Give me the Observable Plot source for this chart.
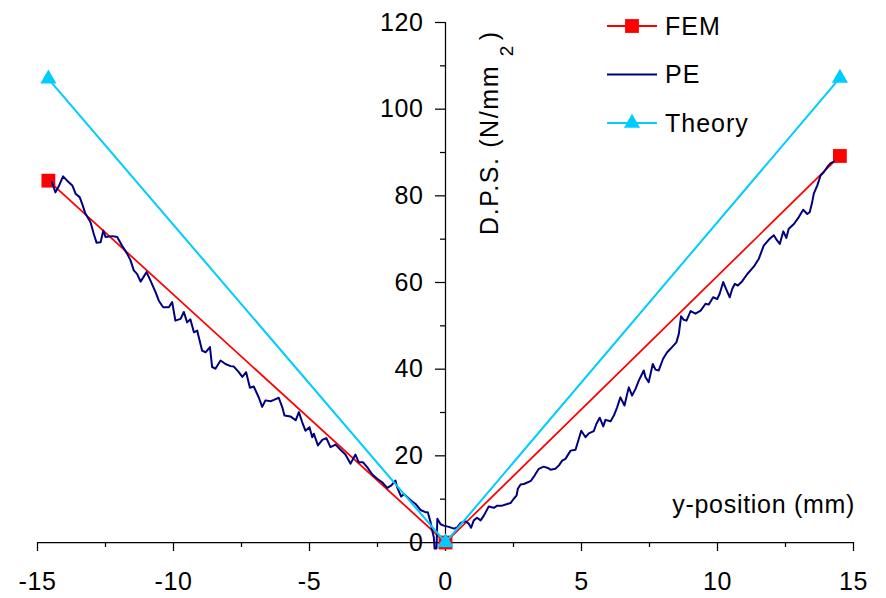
<!DOCTYPE html>
<html>
<head>
<meta charset="utf-8">
<script src="https://cdn.jsdelivr.net/npm/d3@7"></script>
<script src="https://cdn.jsdelivr.net/npm/@observablehq/plot@0.6"></script>
<style>
  html, body { margin: 0; padding: 0; background: white; }
</style>
</head>
<body>
<div id="chart"></div>
<script>
// ---- Data ----
const xMajor = [-15, -10, -5, 0, 5, 10, 15];
const xMinor = [-12.5, -7.5, -2.5, 2.5, 7.5, 12.5];
const yMajor = [0, 20, 40, 60, 80, 100, 120];
const yMinor = [10, 30, 50, 70, 90, 110];

const seriesNames = ["FEM", "PE", "Theory"];
const seriesColors = ["#FF0000", "#000080", "#00CCFF"];

const femX = [-14.6, 0, 14.5];
const femY = [83.5, 0, 89.2];

const theoryX = [-14.6, 0, 14.5];
const theoryY = [107, 0, 107.2];

const peX = [-14.47, -14.34, -14.22, -14.06, -13.91, -13.72, -13.6, -13.45, -13.36, -13.24,
  -13.05, -12.93, -12.83, -12.68, -12.58, -12.5, -12.25, -12.07, -11.89, -11.7,
  -11.58, -11.46, -11.34, -11.21, -10.99, -10.85, -10.66, -10.54, -10.38, -10.17,
  -10.05, -9.93, -9.74, -9.62, -9.5, -9.38, -9.25, -9.13, -8.95, -8.82,
  -8.66, -8.58, -8.46, -8.27, -8.09, -7.9, -7.78, -7.6, -7.47, -7.33,
  -7.19, -7.05, -6.86, -6.74, -6.62, -6.43, -6.31, -6.13, -6.0, -5.92,
  -5.7, -5.51, -5.39, -5.27, -5.15, -5.0, -4.9, -4.84, -4.69, -4.53,
  -4.38, -4.23, -4.04, -3.86, -3.68, -3.49, -3.31, -3.19, -3.03, -2.88,
  -2.69, -2.51, -2.33, -2.14, -1.99, -1.84, -1.78, -1.63, -1.53, -1.29,
  -1.1, -0.92, -0.74, -0.65, -0.55, -0.49, -0.43, -0.4, -0.33, -0.3,
  -0.18, -0.06, 0.12, 0.31, 0.43, 0.55, 0.74, 0.86, 0.94, 1.04,
  1.16, 1.29, 1.41, 1.59, 1.78, 1.9, 2.08, 2.27, 2.39, 2.51,
  2.61, 2.66, 2.76, 2.88, 3.03, 3.15, 3.28, 3.43, 3.61, 3.76,
  3.86, 4.04, 4.17, 4.29, 4.41, 4.6, 4.78, 4.9, 4.99, 5.15,
  5.27, 5.45, 5.55, 5.67, 5.8, 5.88, 6.07, 6.19, 6.31, 6.43,
  6.58, 6.68, 6.74, 6.86, 6.99, 7.11, 7.29, 7.35, 7.47, 7.62,
  7.72, 7.84, 8.0, 8.15, 8.33, 8.49, 8.58, 8.66, 8.76, 8.86,
  9.01, 9.19, 9.38, 9.56, 9.68, 9.84, 9.99, 10.08, 10.21, 10.33,
  10.45, 10.54, 10.64, 10.75, 10.91, 11.09, 11.34, 11.52, 11.7, 11.89,
  12.07, 12.19, 12.29, 12.42, 12.53, 12.62, 12.81, 12.99, 13.15, 13.3,
  13.39, 13.48, 13.54, 13.67, 13.79, 13.91, 14.03, 14.15, 14.28];
const peY = [83.2, 80.8, 82.2, 84.5, 83.5, 82.4, 80.5, 79.7, 78.2, 75.9,
  73.9, 71.2, 69.2, 69.3, 72.0, 70.5, 70.7, 70.5, 68.5, 66.6,
  65.1, 62.8, 62.0, 60.2, 62.4, 60.5, 57.8, 55.8, 54.3, 54.3,
  55.5, 51.2, 51.6, 53.2, 50.8, 51.5, 48.5, 48.9, 44.3, 43.9,
  45.1, 40.5, 40.1, 42.0, 41.2, 40.7, 40.6, 39.3, 38.2, 39.3,
  35.7, 36.0, 33.4, 31.3, 32.8, 32.6, 32.9, 33.4, 31.2, 29.3,
  29.1, 28.2, 30.1, 27.8, 25.8, 26.6, 24.3, 25.1, 22.4, 23.7,
  24.1, 22.0, 22.6, 21.4, 20.3, 18.2, 20.3, 18.5, 18.5, 17.4,
  15.7, 14.7, 13.9, 12.6, 13.2, 14.3, 12.8, 10.6, 11.2, 9.8,
  8.9, 7.5, 7.0, 7.0, 4.7, 2.8, 1.2, -1.4, -1.4, 5.5,
  4.2, 3.9, 3.6, 3.2, 3.5, 4.5, 4.9, 4.3, 3.4, 5.1,
  5.7, 5.1, 6.2, 8.3, 8.0, 8.5, 8.5, 8.9, 9.1, 10.1,
  10.8, 12.4, 13.4, 13.5, 13.9, 14.3, 15.5, 17.0, 17.5, 17.2,
  16.8, 17.0, 17.8, 18.9, 19.3, 21.2, 21.4, 23.9, 25.8, 24.3,
  25.2, 25.7, 27.4, 28.8, 26.8, 28.3, 28.0, 29.3, 31.2, 33.5,
  31.6, 34.3, 35.8, 33.9, 35.5, 37.4, 39.7, 38.2, 37.0, 41.2,
  39.9, 39.7, 42.4, 43.9, 45.1, 46.2, 48.2, 52.2, 51.4, 51.2,
  53.4, 52.8, 53.5, 55.1, 54.9, 56.6, 56.2, 57.4, 60.1, 58.3,
  56.6, 58.5, 59.7, 59.3, 60.3, 61.9, 63.7, 65.5, 68.5, 69.9,
  70.9, 69.7, 68.9, 71.8, 70.3, 72.4, 73.5, 75.1, 76.8, 75.8,
  76.2, 78.5, 80.5, 82.4, 84.7, 85.5, 86.6, 87.5, 87.9];

const xTitle = "y-position (mm)";
const yTitleMain = "D.P.S. (N/mm ";
const yTitleSup = "2";
const yTitleEnd = ")";

// ---- Build tables ----
const fem = femX.map((x, i) => ({x, y: femY[i]}));
const theory = theoryX.map((x, i) => ({x, y: theoryY[i]}));
const pe = peX.map((x, i) => ({x, y: peY[i]}));

const W = 886, H = 598;
const mL = 37, mR = 33, mT = 22, mB = 56;
const pxPerX = (W - mL - mR) / (15 - -15);
const majorTickX = 10 / pxPerX;
const minorTickX = 5 / pxPerX;

const FONT = "'Liberation Sans', Arial, Helvetica, sans-serif";
const FS = 25;

const plot = Plot.plot({
  width: W, height: H,
  marginLeft: mL, marginRight: mR, marginTop: mT, marginBottom: mB,
  x: {domain: [-15, 15]},
  y: {domain: [0, 120], axis: null},
  style: {fontFamily: FONT, fontSize: FS + "px", color: "black", background: "white", overflow: "visible", letterSpacing: "0.6px"},
  marks: [
    Plot.axisX(xMajor, {tickSize: 9, tickPadding: 21, fontSize: FS, strokeWidth: 1.25, label: null, tickFormat: d => String(d)}),
    Plot.axisX(xMinor, {tickSize: 5, strokeWidth: 1.25, label: null, tickFormat: () => ""}),
    Plot.ruleY([0], {stroke: "black", strokeWidth: 1.25}),
    Plot.ruleX([0], {y1: 0, y2: 120, stroke: "black", strokeWidth: 1.25}),
    Plot.ruleY(yMajor, {y: d => d, x1: -majorTickX, x2: 0, stroke: "black", strokeWidth: 1.25}),
    Plot.ruleY(yMinor, {y: d => d, x1: -minorTickX, x2: 0, stroke: "black", strokeWidth: 1.25}),
    Plot.text(yMajor, {x: 0, y: d => d, text: d => String(d), textAnchor: "end", dx: -22, fontSize: FS}),
    Plot.line(fem, {x: "x", y: "y", stroke: seriesColors[0], strokeWidth: 1.75}),
    Plot.dot(fem, {x: "x", y: "y", symbol: "square", r: 7.8, fill: seriesColors[0], stroke: null}),
    Plot.line(pe, {x: "x", y: "y", stroke: seriesColors[1], strokeWidth: 2, curve: "linear"}),
    Plot.line(theory, {x: "x", y: "y", stroke: seriesColors[2], strokeWidth: 2}),
    Plot.dot(theory, {x: "x", y: "y", symbol: "triangle", r: 6, fill: seriesColors[2], stroke: null})
  ]
});

document.getElementById("chart").appendChild(plot);

// ---- Titles ----
const svg = d3.select(plot);
const x0 = plot.scale("x").apply(0);
const yTop = plot.scale("y").apply(120);
const yBot = plot.scale("y").apply(0);

svg.append("text")
  .attr("x", plot.scale("x").apply(15) + 2)
  .attr("y", yBot - 29)
  .attr("text-anchor", "end")
  .attr("font-size", FS)
  .attr("letter-spacing", "0.7px")
  .attr("fill", "black")
  .text(xTitle);

const yt = svg.append("text")
  .attr("transform", `translate(${x0 + 53},${yTop + 213}) rotate(-90)`)
  .attr("text-anchor", "start")
  .attr("font-size", FS)
  .attr("letter-spacing", "1.6px")
  .attr("fill", "black");
yt.append("tspan").text(yTitleMain);
yt.append("tspan").attr("font-size", 19).attr("dy", 15).text(yTitleSup);
yt.append("tspan").attr("dy", -15).attr("dx", 4).text(yTitleEnd);

// ---- Legend ----
const legX = 607, legY0 = 26, legStep = 48.5, legLen = 50;
const markerSymbols = [d3.symbolSquare, null, d3.symbolTriangle];
const markerSizes = [Math.PI * 7.8 * 7.8, 0, Math.PI * 6 * 6];
const lg = svg.append("g");
seriesNames.forEach((name, i) => {
  const cy = legY0 + i * legStep;
  lg.append("line")
    .attr("x1", legX).attr("x2", legX + legLen)
    .attr("y1", cy).attr("y2", cy)
    .attr("stroke", seriesColors[i]).attr("stroke-width", 2);
  if (markerSymbols[i]) {
    lg.append("path")
      .attr("d", d3.symbol(markerSymbols[i], markerSizes[i])())
      .attr("transform", `translate(${legX + legLen / 2},${cy})`)
      .attr("fill", seriesColors[i]);
  }
  lg.append("text")
    .attr("x", legX + legLen + 8)
    .attr("y", cy)
    .attr("dy", "0.35em")
    .attr("text-anchor", "start")
    .attr("font-size", FS)
    .attr("letter-spacing", "1px")
    .attr("fill", "black")
    .text(name);
});
</script>
</body>
</html>
